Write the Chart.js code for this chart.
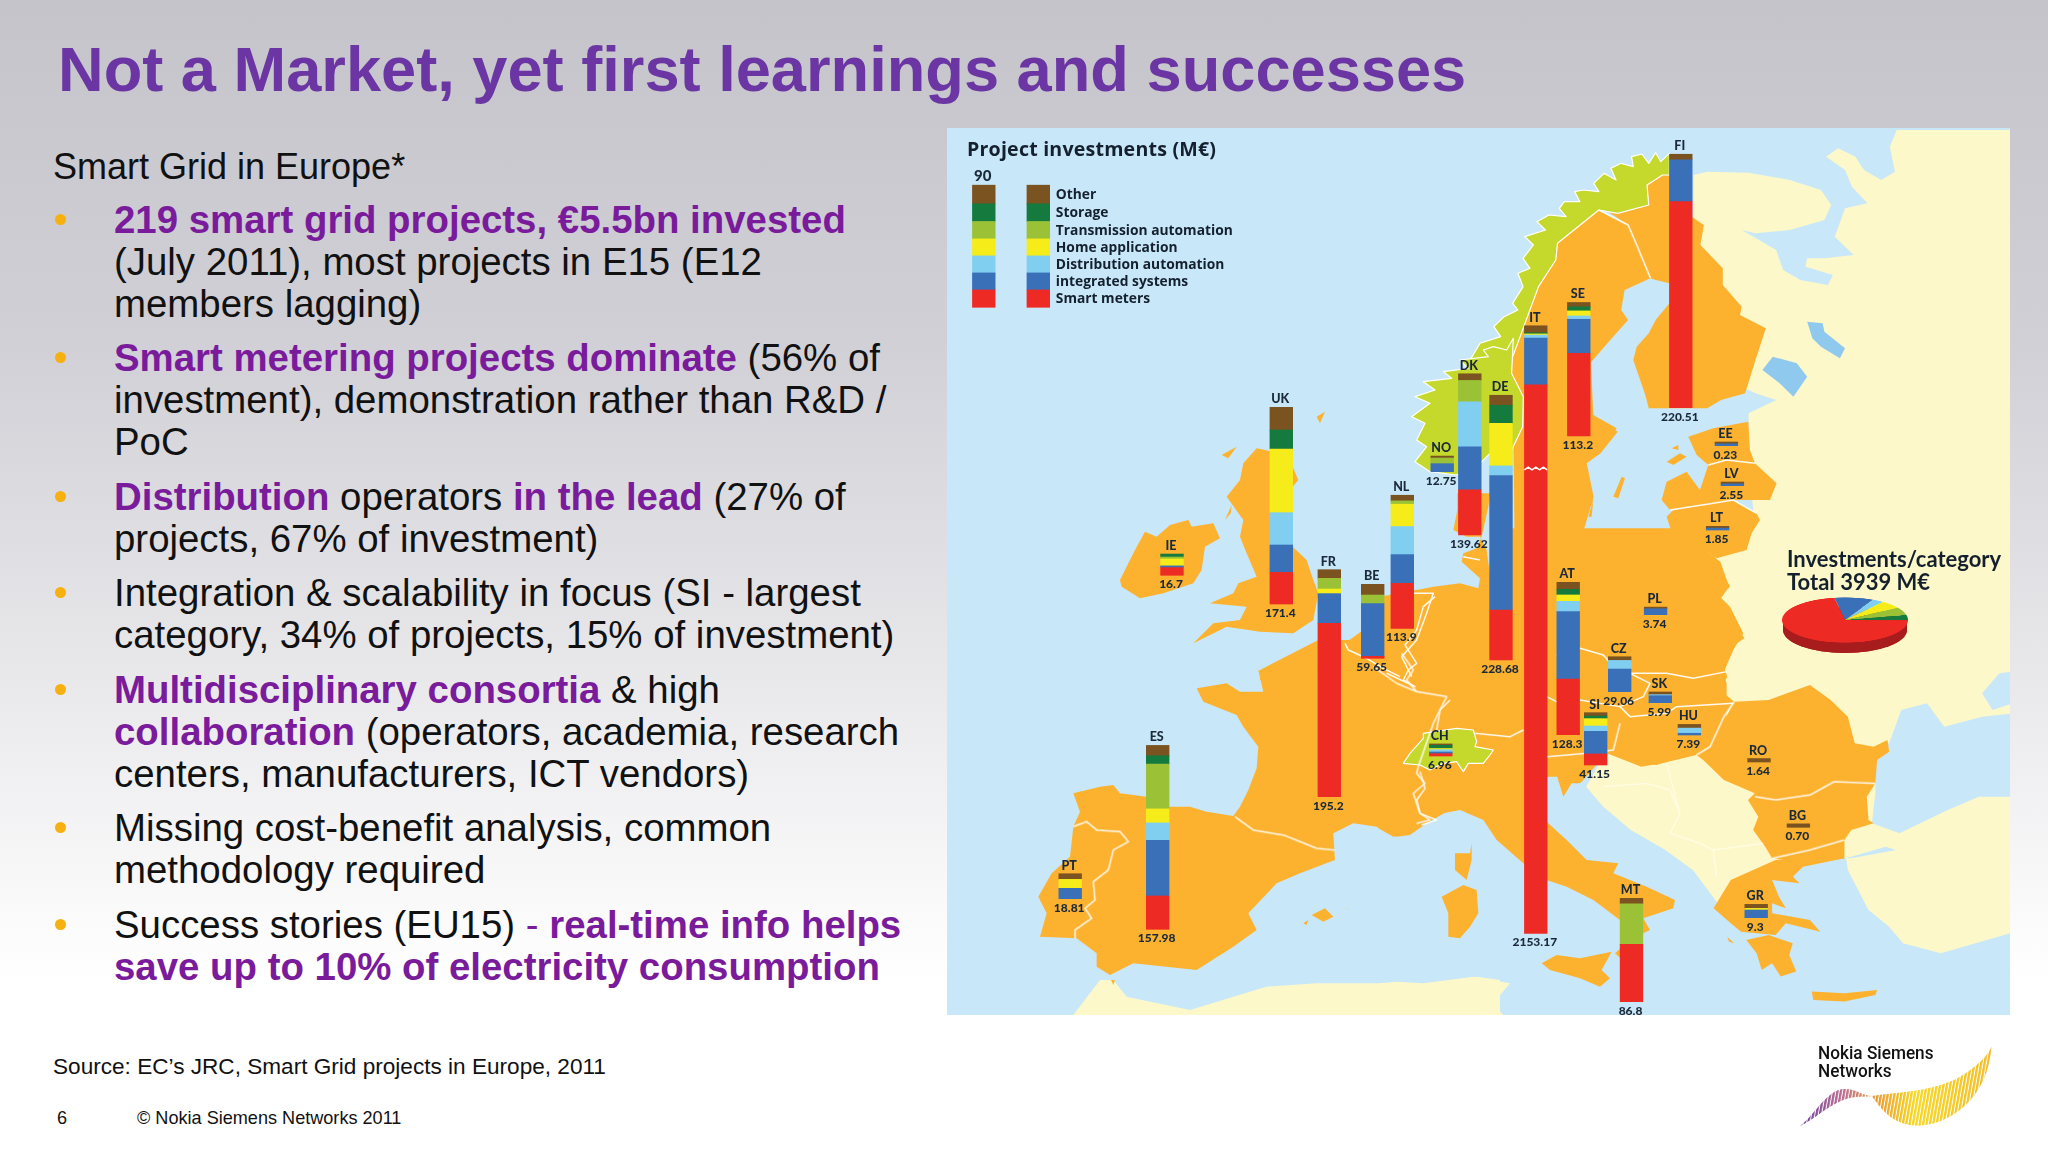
<!DOCTYPE html>
<html lang="en">
<head>
<meta charset="UTF-8">
<title>Not a Market, yet first learnings and successes</title>
<script src="https://cdn.jsdelivr.net/npm/chart.js@4"></script>
<style>
    html, body { margin: 0; padding: 0; }
    body {
        width: 2048px; height: 1152px; position: relative; overflow: hidden;
        font-family: "Liberation Sans", Arial, sans-serif; color: #111;
        background: linear-gradient(180deg, #c4c4ca 0%, #d0d0d6 30%, #eeeef0 65%, #ffffff 85%);
    }
    h1 {
        position: absolute; left: 58px; top: 33px; margin: 0; white-space: nowrap;
        font-size: 63.2px; line-height: 72px; font-weight: bold; color: #6b35a3;
    }
    .intro { position: absolute; left: 53px; top: 146px; font-size: 36px; line-height: 42px; white-space: nowrap; }
    ul { position: absolute; left: 0; top: 199px; margin: 0; padding: 0; list-style: none; font-size: 38.4px; line-height: 41.8px; white-space: nowrap; }
    li { position: relative; padding-left: 114px; margin-bottom: 13px; }
    li::before { content: ""; position: absolute; left: 55px; top: 15px; width: 11px; height: 11px; border-radius: 50%; background: #f6b010; }
    b { color: #7a1b9c; }
    .pu { color: #7a1b9c; }
    .source { position: absolute; left: 53px; top: 1053px; font-size: 22.6px; line-height: 28px; white-space: nowrap; }
    .pageno { position: absolute; left: 57px; top: 1107px; font-size: 18.1px; line-height: 22px; }
    .copy { position: absolute; left: 137px; top: 1107px; font-size: 18.1px; line-height: 22px; white-space: nowrap; }
    .logo { position: absolute; left: 1818px; top: 1045px; font: 500 18.5px/17.5px Roboto, sans-serif; color: #111; white-space: nowrap; transform: scaleX(.93); transform-origin: left top; }
    svg.map { position: absolute; left: 0; top: 0; }
    #barChart { position: absolute; left: 947px; top: 128px; }
    #pieChart { position: absolute; left: 1782px; top: 557px; transform: scaleY(0.36); }
    .panelTitle { position: absolute; left: 967px; top: 136px; font: 700 19.6px/26px "Open Sans", sans-serif; letter-spacing: .2px; color: #14202e; white-space: nowrap; }
    .pieTitle { position: absolute; left: 1787px; top: 548px; font: 700 22px/22.5px Lato, sans-serif; color: #14202e; white-space: nowrap; }
</style>
</head>
<body>
<h1>Not a Market, yet first learnings and successes</h1>
<div class="intro">Smart Grid in Europe*</div>
<ul>
    <li><b>219 smart grid projects, €5.5bn invested</b><br>(July 2011), most projects in E15 (E12<br>members lagging)</li>
    <li><b>Smart metering projects dominate</b> (56% of<br>investment), demonstration rather than R&amp;D /<br>PoC</li>
    <li><b>Distribution</b> operators <b>in the lead</b> (27% of<br>projects, 67% of investment)</li>
    <li>Integration &amp; scalability in focus (SI - largest<br>category, 34% of projects, 15% of investment)</li>
    <li><b>Multidisciplinary consortia</b> &amp; high<br><b>collaboration</b> (operators, academia, research<br>centers, manufacturers, ICT vendors)</li>
    <li>Missing cost-benefit analysis, common<br>methodology required</li>
    <li>Success stories (EU15) <span class="pu">-</span> <b>real-time info helps<br>save up to 10% of electricity consumption</b></li>
</ul>
<div class="source">Source: EC’s JRC, Smart Grid projects in Europe, 2011</div>
<div class="pageno">6</div>
<div class="copy">© Nokia Siemens Networks 2011</div>
<div class="logo">Nokia Siemens<br>Networks</div>

<svg class="map" width="2048" height="1152" viewBox="0 0 2048 1152">
    <defs>
        <clipPath id="panelClip"><rect x="947" y="128" width="1063" height="887"/></clipPath>
        <linearGradient id="swoosh" gradientUnits="userSpaceOnUse" x1="300" y1="0" x2="875" y2="0">
            <stop offset="0" stop-color="#6a3da0"/><stop offset=".23" stop-color="#c07090"/>
            <stop offset=".4" stop-color="#e89a30"/><stop offset=".6" stop-color="#f7d820"/><stop offset="1" stop-color="#f2bd2c"/>
        </linearGradient>
        <pattern id="stripes" width="10" height="40" patternUnits="userSpaceOnUse" patternTransform="rotate(10)">
            <rect width="7" height="40" fill="#fff"/>
        </pattern>
        <mask id="stripeMask" maskUnits="userSpaceOnUse" x="280" y="60" width="620" height="280"><rect x="280" y="60" width="620" height="280" fill="url(#stripes)"/></mask>
    </defs>
    <g clip-path="url(#panelClip)">
        <rect x="947" y="128" width="1063" height="887" fill="#c8e7f9"/>
        <!-- non participating land -->
        <g fill="#fdf8c9">
            <g transform="translate(1480,130) scale(.3444,.3333)">
                <polygon points="1210,0 1560,0 1560,1210 800,1210 780,1000 780,850 860,810 800,790 620,700 620,135 660,125 780,128 900,150 990,180 1020,225 1000,270 900,300 800,310 760,300 860,360 880,420 930,450 1010,465 1025,435 945,410 950,385 1000,385 1085,375 1030,320 1060,235 1125,220 1080,170 1060,120 1005,80 1040,55 1090,80 1115,120 1165,150 1205,125 1190,50"/>
            </g>
            <g transform="translate(1500,530) scale(.3444,.3333)">
                <polygon points="640,-5 1481,-5 1481,1210 1280,1270 1170,1240 1130,1190 1070,1140 1010,1020 1005,985 960,960 790,1000 640,1130 560,1020 480,960 380,900 300,830 250,770 300,680"/>
            </g>
            <g transform="translate(1380,340) scale(.3333)"><polygon points="810,625 950,590 960,620 1005,650 830,655"/></g>
            <g transform="translate(1000,660) scale(.3333)"><polygon points="220,1065 300,960 340,960 380,1010 570,1050 700,1010 800,980 950,970 1150,970 1340,990 1430,950 1500,960 1500,1065"/></g>
            <g transform="translate(1380,700) scale(.3333)"><polygon points="0,850 50,845 130,850 280,830 390,850 340,910 370,945 0,945"/></g>
        </g>
        <!-- inland and black sea water -->
        <g transform="translate(1480,130) scale(.3444,.3333)" fill="#90c9ee">
            <polygon points="820,720 850,680 920,700 950,740 910,800 870,760"/>
            <polygon points="950,575 995,580 1000,605 1060,655 1045,685 990,650 965,625"/>
        </g>
        <g transform="translate(1500,530) scale(.3444,.3333)" fill="#c8e7f9">
            <polygon points="1085,650 1130,640 1165,540 1240,520 1290,590 1400,560 1490,550 1490,800 1390,800 1300,840 1160,910 1080,880 1090,790 1090,700"/>
            <polygon points="1400,490 1450,430 1490,425 1490,520 1430,540"/>
            <polygon points="1005,985 1120,950 1150,960 1020,985"/>
        </g>
        <!-- participating countries -->
        <g fill="#fdb22f">
            <g transform="translate(1100,380) scale(.3333)">
                <polygon points="60,600 105,510 135,455 170,470 210,435 265,420 275,440 340,430 360,475 315,500 305,570 280,610 190,640 120,655 65,620"/>
                <polygon points="470,205 520,215 578,260 595,300 578,320 578,500 620,540 640,600 655,640 640,720 580,760 480,755 380,740 280,790 340,730 420,720 440,680 330,670 400,640 415,610 470,590 440,520 420,470 430,420 380,350 420,300 430,250"/>
                <polygon points="365,225 410,200 385,235"/><polygon points="650,110 675,95 660,130"/><polygon points="375,420 395,375 392,400"/>
                <polygon points="480,870 655,780 735,785 800,900 480,900"/>
                <polygon points="650,790 735,790 790,750 860,690 873,640 945,632 1000,625 1000,900 650,900"/>
            </g>
            <g transform="translate(1000,660) scale(.3333)">
                <polygon points="220,400 300,380 340,375 360,400 440,410 510,440 570,440 620,455 700,468 720,440 745,390 770,325 775,260 730,200 710,165 610,125 590,85 680,70 720,95 790,95 775,30 810,45 900,30 950,10 1000,-60 1505,-60 1505,450 1370,445 1340,455 1280,490 1230,525 1190,530 1130,500 1060,490 1000,520 1005,600 900,640 830,670 745,760 770,810 700,860 590,930 400,910 330,945 290,920 290,880 230,835 120,830 140,760 115,710 155,640 210,590 220,500 240,455"/>
                <polygon points="935,765 975,745 1000,770 970,785"/><polygon points="910,790 925,780 920,795"/><polygon points="1030,740 1060,755 1040,745"/>
                <polygon points="333,960 345,960 340,975"/>
            </g>
            <g transform="translate(1380,340) scale(.3333)">
                <polygon points="0,1205 0,770 110,750 160,740 240,730 295,745 300,715 245,665 250,640 290,625 305,590 325,500 330,460 232,460 232,510 220,570 260,590 300,590 320,630 330,705 430,705 530,720 600,690 720,635 790,660 830,650 810,625 950,590 960,620 1005,650 1050,740 1020,770 1050,800 1090,880 1060,930 1030,1000 1040,1030 1040,1205"/>
                <polygon points="400,-5 630,-5 640,225 710,265 670,320 610,370 600,420 640,480 610,545 525,565 520,605 500,605 433,545 433,430 400,390 425,350 430,170 395,100"/>
                <polygon points="395,570 430,590 425,640 400,650 385,620"/>
                <!-- baltics and islands -->
                <polygon points="925,290 1000,265 1105,245 1110,330 1125,370 1040,360 985,375 950,345"/>
                <polygon points="860,425 920,395 960,450 985,375 1040,360 1125,370 1190,430 1170,480 1060,480 1000,490 870,510 845,480"/>
                <polygon points="860,530 880,510 1000,490 1060,480 1130,520 1140,540 1115,580 1100,630 1010,655 960,620 950,590 880,590"/>
                <polygon points="860,365 900,340 920,350 880,375"/><polygon points="875,325 895,315 895,330"/>
                <polygon points="700,470 725,410 735,415 715,475"/><polygon points="625,530 640,480 635,530"/>
            </g>
            <g transform="translate(1380,700) scale(.3333)">
                <polygon points="-5,0 960,0 960,160 920,165 830,195 760,180 700,150 680,160 610,240 600,250 575,250 550,290 530,225 500,225 500,365 560,420 620,480 715,490 700,520 800,560 885,600 880,625 790,655 810,690 790,700 720,660 640,600 560,560 500,540 430,490 350,420 310,360 240,330 190,340 130,365 90,400 40,410 -5,385"/>
                <polygon points="275,430 270,460 225,460 225,510 260,540 275,480"/>
                <polygon points="185,590 250,555 290,570 295,640 270,680 240,715 205,710 205,640"/>
                <polygon points="485,790 530,765 600,775 695,755 665,810 690,835 660,860 600,835 510,810"/>
                <polygon points="705,760 722,745 722,775"/>
            </g>
            <g transform="translate(1480,130) scale(.3444,.3333)">
                <polygon points="345,240 430,285 455,345 495,445 420,480 410,540 430,570 370,640 320,700 320,850 400,905 350,970 310,1000 330,1100 300,1205 100,1205 95,680 170,470 220,390 225,340"/>
                <polygon points="350,230 400,250 490,225 485,165 530,135 615,140 615,260 650,285 640,345 705,415 705,465 760,530 755,555 830,595 800,690 770,790 700,810 660,835 490,835 480,795 445,690 455,650 490,610 510,570 550,520 550,460 510,450 495,445 455,345 430,285"/>
            </g>
            <g transform="translate(1500,530) scale(.3444,.3333)">
                <polygon points="-5,-5 600,-5 600,65 640,95 665,170 635,215 660,250 710,325 680,345 650,410 660,440 640,480 680,515 650,560 610,650 570,675 470,700 410,710 310,670 245,670 165,740 -5,740"/>
                <polygon points="680,515 780,510 900,465 960,510 1010,560 1030,640 1085,650 1125,630 1130,665 1095,690 1090,760 1065,800 1070,870 1085,880 1020,900 1000,930 1000,985 900,1000 790,985 770,950 735,900 750,860 720,810 740,790 650,750 590,690 570,675 610,650"/>
                <polygon points="800,990 990,965 1000,985 880,1010 850,1040 870,1060 790,1050 810,1100 830,1135 790,1120 790,1150 900,1170 930,1205 830,1180 800,1215 700,1205 670,1180 620,1135 670,1050"/>
                <polygon points="715,1230 780,1215 850,1240 840,1275 860,1325 815,1340 790,1300 760,1320 745,1270"/>
                <polygon points="905,1385 1000,1390 1095,1380 1090,1395 1000,1415 910,1410"/>
                <polygon points="660,1220 680,1240 665,1235"/>
            </g>
        </g>
        <!-- lime countries: Norway, Switzerland -->
        <g fill="#c5d92d" stroke="#fff" stroke-width="3.5" stroke-linejoin="round">
            <g transform="translate(1480,130) scale(.3444,.3333)">
                <polygon points="550,70 525,95 510,68 490,100 470,72 440,80 445,110 410,100 380,115 395,150 360,130 330,160 345,185 300,180 275,185 290,215 245,215 230,235 250,260 200,255 165,275 190,300 130,320 155,345 125,385 145,415 110,430 125,470 95,520 110,540 70,560 40,590 60,620 0,640 -40,710 95,680 170,470 220,390 225,340 345,240 400,250 490,225 485,165 530,135 550,135"/>
            </g>
            <g transform="translate(1380,340) scale(.3333)">
                <polygon points="400,-5 380,30 340,20 310,30 325,50 240,60 265,85 190,95 215,115 130,125 165,150 105,170 150,190 95,230 135,250 110,300 140,320 105,365 150,395 230,405 300,370 330,340 395,330 428,260 430,170 395,100"/>
            </g>
            <g transform="translate(1380,700) scale(.3333)">
                <polygon points="70,190 90,160 130,115 130,100 230,85 280,90 290,125 285,140 340,150 330,165 310,190 265,190 250,215 230,185 190,190 150,210 120,195"/>
            </g>
        </g>
        <!-- borders -->
        <g fill="none" stroke="#fff" stroke-width="4.5" stroke-linejoin="round" opacity=".92">
            <g transform="translate(1000,660) scale(.3333)">
                <polyline points="220,500 260,485 290,510 360,515 385,545 340,570 325,630 280,665 285,720 255,745 275,775 225,810 225,835"/>
                <polyline points="705,470 760,510 850,525 900,545 950,565 1005,570"/>
                <polyline points="1120,20 1190,70 1250,95 1340,110 1300,190 1255,320 1250,340 1275,370 1240,400 1260,460 1290,480 1250,490"/>
                <polyline points="1205,-20 1240,30 1220,60 1250,95"/>
            </g>
            <g transform="translate(1100,380) scale(.3333)"><polyline points="735,790 745,810 800,835 850,865 900,890"/><polyline points="940,640 1000,640 980,700 950,780 905,830 935,890"/></g>
            <g transform="translate(1380,340) scale(.3333)">
                <polyline points="165,770 130,800 110,870 75,915 110,970 85,990 70,1020 105,1040 20,1000"/>
                <polyline points="250,650 300,660"/>
                <polyline points="530,945 600,925 670,945 710,990 750,1000 810,1030 790,1070 720,1100 750,1130 860,1120 890,1100 1060,1090"/>
                <polyline points="750,1000 860,1000 940,1015 1040,995"/>
                <polyline points="500,1070 530,1085 600,1080 720,1100"/>
                <polyline points="985,375 1040,360 1125,370"/>
                <polyline points="870,510 1000,490 1060,480 1130,520"/>
            </g>
            <g transform="translate(1380,700) scale(.3333)">
                <polyline points="120,215 135,265 110,300 120,340 170,360 125,375"/>
                <polyline points="285,100 390,110 430,90"/>
                <polyline points="500,170 620,160 700,150 720,70"/>
                <polyline points="210,0 180,30 170,90"/>
            </g>
            <g transform="translate(1500,530) scale(.3444,.3333)">
                <polyline points="680,515 650,560 610,650 570,675"/>
                <polyline points="740,800 800,810 900,795 970,755 1090,760"/>
                <polyline points="790,985 900,960 1000,930"/>
            </g>
            <g transform="translate(1480,130) scale(.3444,.3333)"><polyline points="345,240 430,285 455,345 495,445"/></g>
        </g>
        <g fill="none" stroke="#fffde8" stroke-width="4" opacity=".9" transform="translate(1380,700) scale(.3333)">
            <polyline points="670,260 800,250 870,270 900,340 870,400 960,430 1000,450 1150,430"/>
            <polyline points="860,190 900,340"/>
            <polyline points="1000,450 1010,530"/>
        </g>
        <!-- side of the pie -->
        <path d="M1783,620 L1783,630 A62,23 0 0 0 1907,630 L1907,620 Z" fill="#a81c1e"/>
        <ellipse cx="1845" cy="630" rx="62" ry="23" fill="#a81c1e"/>
    </g>
    <g transform="translate(1700,1020) scale(.3333)">
        <path mask="url(#stripeMask)" fill="url(#swoosh)" d="M300,318 C340,290 380,210 430,207 C470,205 480,225 515,228 C600,215 700,215 780,170 C830,140 860,110 875,80 C870,160 830,250 740,295 C680,325 620,325 570,290 C540,265 525,240 515,228 C490,233 470,225 430,240 C380,260 340,300 300,318Z"/>
    </g>
</svg>

<canvas id="barChart" width="1063" height="887"></canvas>
<canvas id="pieChart" width="126" height="126"></canvas>
<div class="panelTitle">Project investments (M€)</div>
<div class="pieTitle">Investments/category<br>Total 3939 M€</div>

<script>
// first two entries are the "90" sample bar and the legend key from the top left corner
const countries = ['90', '', 'FI', 'SE', 'IT', 'DK', 'DE', 'NO', 'UK', 'IE', 'NL', 'BE', 'FR', 'ES', 'PT', 'CH', 'AT', 'SI', 'CZ', 'SK', 'HU', 'PL', 'EE', 'LV', 'LT', 'RO', 'BG', 'GR', 'MT'];
const totals = ['', '', '220.51', '113.2', '2153.17', '139.62', '228.68', '12.75', '171.4', '16.7', '113.9', '59.65', '195.2', '157.98', '18.81', '6.96', '128.3', '41.15', '29.06', '5.99', '7.39', '3.74', '0.23', '2.55', '1.85', '1.64', '0.70', '9.3', '86.8'];

const categories = ['Other', 'Storage', 'Transmission automation', 'Home application', 'Distribution automation', 'integrated systems', 'Smart meters'];

const other        = [16.2, 16.2, 4.9, 3.8, 6.1, 5.8, 8.7, 1.7, 19.7, 0, 4.9, 9.3, 7.5, 9, 4.9, 1.2, 6.1, 2.9, 3.2, 2.3, 3.2, 1.4, 1.6, 1.6, 1.6, 3, 3, 3.5, 4.9];
const storage      = [15.4, 15.4, 0, 3.5, 1, 0, 15.7, 0, 16.5, 2.6, 0, 0, 0, 7.3, 0, 2.8, 4.9, 2.3, 0, 0, 0, 0, 0, 0, 0, 0, 0, 0, 0];
const transmission = [15.1, 15.1, 0, 0, 0, 18.6, 0, 4.9, 0, 1.7, 2.9, 7.5, 9.3, 38.9, 0, 0, 0, 0, 0, 0, 0, 0, 0, 0, 0, 0, 0, 0, 35.1];
const home         = [14.8, 14.8, 0, 4.4, 1, 0, 37, 0, 55.4, 6, 19.4, 0, 4, 12.2, 7.8, 1, 5.5, 6.4, 0, 0, 0, 0, 0, 0, 0, 0, 0, 1.4, 0];
const distribution = [14.8, 14.8, 0, 2.9, 2.6, 39.2, 8.4, 0, 28.1, 0, 24.4, 0, 0, 15.1, 0, 2, 9, 4.6, 7.5, 0.9, 4.5, 0, 0, 0, 0, 0, 0, 0, 0];
const integrated   = [14.8, 14.8, 36.3, 29.6, 40.6, 37.4, 116.9, 7, 23.8, 1.5, 24.9, 45.8, 25.8, 48.4, 9, 1.5, 58.6, 19.7, 19.7, 6.1, 1.5, 5.2, 1.6, 1.6, 1.6, 0, 0, 6.7, 0];
const smartMeters  = [15.1, 15.1, 179.2, 71.9, 2102, 39.2, 43.5, 0, 27.5, 6.7, 39.2, 1.7, 150.8, 29, 0, 2, 48.4, 9.6, 0, 0, 0, 0, 0, 0, 0, 0, 0, 0, 49.9];

const pieValues = [395, 115, 220, 220, 140, 9, 2840];

// where each bar stands on the map, in page pixels
const barX      = [983.8, 1038.3, 1680.8, 1578.8, 1535.8, 1469.8, 1501, 1442.2, 1281.3, 1172, 1402.3, 1372.7, 1329.3, 1157.7, 1070.2, 1440.8, 1568.2, 1595.7, 1619.7, 1660.3, 1689.4, 1655.6, 1726.4, 1732.4, 1717.6, 1759, 1798.4, 1756.2, 1631.5];
const barBottom = [307.3, 307.3, 407.7, 436, 933.3, 535, 660, 471.7, 604, 575.3, 628.3, 658.3, 796.7, 929.3, 898.7, 756, 734.7, 765, 691.7, 702.7, 735, 614.7, 445.7, 485.7, 530, 762, 827.3, 917.7, 1001.7];

const colors = { other: '#7a5320', storage: '#157a3e', trans: '#9bc136', home: '#f5ec1a', dist: '#80cff0', integ: '#3a70b8', smart: '#ee2a24' };

const panelLeft = 947, panelTop = 128, panelWidth = 1063, panelHeight = 887;
const pxPerMeur = 1.15;
const itIndex = countries.indexOf('IT');
const itBreakCut = 1625; // the IT bar is drawn with a break, this much is cut out of it
const itBreakY = 468.5;

// stacking order on the bars, bottom to top
const stack = [
    { label: categories[6], values: smartMeters, color: colors.smart },
    { label: categories[5], values: integrated, color: colors.integ },
    { label: categories[4], values: distribution, color: colors.dist },
    { label: categories[3], values: home, color: colors.home },
    { label: categories[2], values: transmission, color: colors.trans },
    { label: categories[1], values: storage, color: colors.storage },
    { label: categories[0], values: other, color: colors.other }
];

const running = countries.map((c, i) => (panelTop + panelHeight - barBottom[i]) / pxPerMeur);
const datasets = stack.map(s => {
    const points = [];
    s.values.forEach((v, i) => {
        if (!v) return;
        const h = i === itIndex && s.values === smartMeters ? v - itBreakCut : v;
        points.push({ x: barX[i], y: [running[i], running[i] + h] });
        running[i] += h;
    });
    return { label: s.label, data: points, backgroundColor: s.color, borderWidth: 0, barThickness: 22.7, grouped: false };
});

const mapLabels = {
    id: 'mapLabels',
    afterDatasetsDraw(chart) {
        const { ctx, scales } = chart;
        ctx.save();
        ctx.textAlign = 'center';
        ctx.textBaseline = 'alphabetic';
        ctx.fillStyle = '#1b2a3a';
        countries.forEach((name, i) => {
            const x = scales.x.getPixelForValue(barX[i]);
            const top = scales.y.getPixelForValue(running[i]);
            const bottom = scales.y.getPixelForValue((panelTop + panelHeight - barBottom[i]) / pxPerMeur);
            ctx.font = i === 0 ? '900 15px Lato' : '900 12.5px Lato';
            if (name) ctx.fillText(name, x - 1, top - 4);
            ctx.font = '900 12px Lato';
            if (totals[i]) ctx.fillText(totals[i], x - 1, bottom + 13);
        });

        // wavy white cut through the IT bar
        const cx = scales.x.getPixelForValue(barX[itIndex]);
        const cy = itBreakY - panelTop;
        ctx.strokeStyle = '#fff';
        ctx.lineWidth = 1.6;
        ctx.beginPath();
        for (let k = 0; k <= 6; k++) {
            const px = cx - 11.35 + k * 22.7 / 6;
            const py = cy + (k % 2 ? -1.3 : 1.3);
            k ? ctx.lineTo(px, py) : ctx.moveTo(px, py);
        }
        ctx.stroke();

        // legend text next to the key bar
        const keyX = scales.x.getPixelForValue(barX[1]) + 17.5;
        ctx.textAlign = 'left';
        ctx.font = '700 13.8px "Open Sans"';
        ctx.fillStyle = '#14202e';
        let level = (panelTop + panelHeight - barBottom[1]) / pxPerMeur;
        level += stack.reduce((sum, s) => sum + s.values[1], 0);
        categories.forEach((cat, k) => {
            const h = stack[6 - k].values[1];
            const y = scales.y.getPixelForValue(level - h / 2);
            ctx.fillText(cat, keyX, y + 4.5);
            level -= h;
        });
        ctx.restore();
    }
};

new Chart(document.getElementById('barChart'), {
    type: 'bar',
    data: { datasets },
    plugins: [mapLabels],
    options: {
        responsive: false,
        animation: false,
        layout: { padding: 0 },
        plugins: { legend: { display: false }, tooltip: { enabled: false } },
        scales: {
            x: { type: 'linear', display: false, offset: false, min: panelLeft, max: panelLeft + panelWidth },
            y: { type: 'linear', display: false, min: 0, max: panelHeight / pxPerMeur }
        }
    }
});

new Chart(document.getElementById('pieChart'), {
    type: 'pie',
    data: {
        labels: [categories[5], categories[4], categories[3], categories[2], categories[1], categories[0], categories[6]],
        datasets: [{
            data: pieValues,
            backgroundColor: [colors.integ, colors.dist, colors.home, colors.trans, colors.storage, colors.other, colors.smart],
            borderWidth: 0
        }]
    },
    options: {
        responsive: false,
        animation: false,
        rotation: -9.7,
        layout: { padding: 0 },
        plugins: { legend: { display: false }, tooltip: { enabled: false } }
    }
});
</script>
</body>
</html>
